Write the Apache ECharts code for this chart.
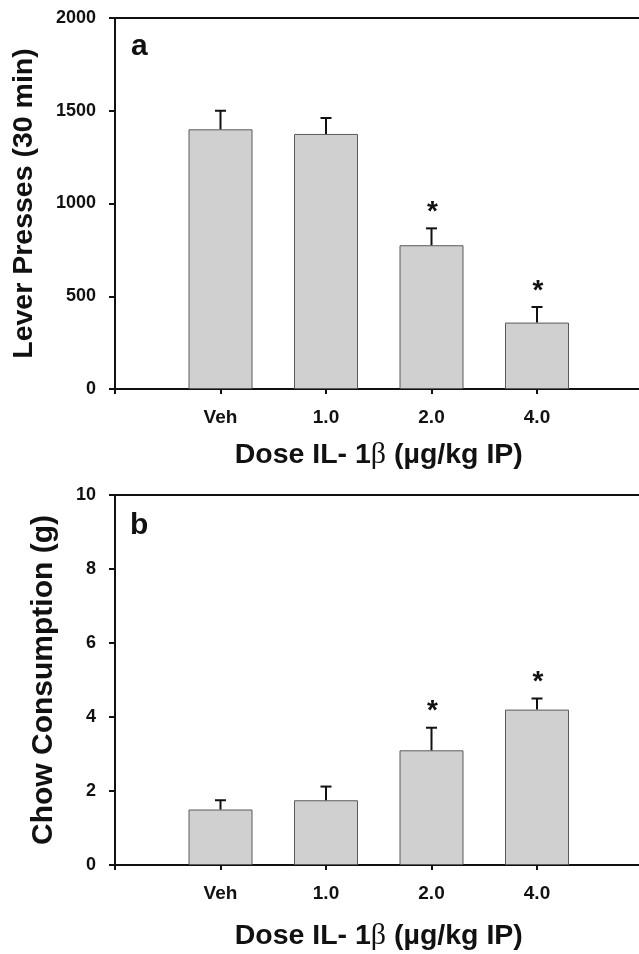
<!DOCTYPE html>
<html>
<head>
<meta charset="utf-8">
<script src="https://cdn.jsdelivr.net/npm/echarts@6/dist/echarts.min.js"></script>
<style>
html,body{margin:0;padding:0;background:#fff;overflow:hidden;}
#chart{width:639px;height:954px;}
</style>
</head>
<body>
<div id="chart"></div>
<script>
// ---- data ----
const doseLabels = ['Veh', '1.0', '2.0', '4.0'];
const leverMeans = [1400, 1375, 775, 358];
const leverSE = [100, 86, 91, 84];
const leverSig = [false, false, true, true];
const chowMeans = [1.5, 1.75, 3.1, 4.2];
const chowSE = [0.25, 0.37, 0.61, 0.3];
const chowSig = [false, false, true, true];
const leverTicks = [0, 500, 1000, 1500, 2000];
const chowTicks = [0, 2, 4, 6, 8, 10];
const xTitle = 'Dose IL- 1{b|β} (µg/kg IP)';
const leverTitle = 'Lever Presses (30 min)';
const chowTitle = 'Chow Consumption (g)';

const FONT = '"Liberation Sans", Arial, sans-serif';
const INK = '#111';

const chart = echarts.init(document.getElementById('chart'), null, {renderer: 'canvas'});

function xAxisCfg(gi, gap) {
  return {
    gridIndex: gi, type: 'value', min: 0, max: doseLabels.length + 1, interval: 1,
    axisLine: {show: true, onZero: false, lineStyle: {color: INK, width: 2}},
    axisTick: {show: true, length: 5, lineStyle: {color: INK, width: 2}},
    splitLine: {show: false},
    axisLabel: {
      margin: 19, fontSize: 19, fontWeight: 'bold', color: INK, fontFamily: FONT,
      formatter: v => (v >= 1 && v <= doseLabels.length) ? doseLabels[v - 1] : ''
    },
    name: xTitle, nameLocation: 'middle', nameGap: gap,
    nameTextStyle: {
      fontSize: 28.5, fontWeight: 'bold', color: INK, fontFamily: FONT,
      rich: {b: {fontSize: 30, fontWeight: 'normal', fontFamily: '"Liberation Serif", "DejaVu Serif", serif', color: INK}}
    }
  };
}
function yAxisCfg(gi, ticks, title, gap, fs) {
  return {
    gridIndex: gi, type: 'value', min: ticks[0], max: ticks[ticks.length - 1],
    interval: ticks[1] - ticks[0],
    axisLine: {show: true, lineStyle: {color: INK, width: 2}},
    axisTick: {show: true, length: 6, lineStyle: {color: INK, width: 2}},
    splitLine: {show: false},
    axisLabel: {margin: 19, fontSize: 18, fontWeight: 'bold', color: INK, fontFamily: FONT,
                formatter: v => String(v)},
    name: title, nameLocation: 'middle', nameGap: gap, nameRotate: 90,
    nameTextStyle: {fontSize: fs, fontWeight: 'bold', color: INK, fontFamily: FONT}
  };
}
function barSeries(gi, means) {
  return {
    type: 'bar', xAxisIndex: gi, yAxisIndex: gi, barWidth: 64,
    data: means.map((m, i) => [i + 1, m]),
    itemStyle: {color: '#d0d0d0', borderColor: '#5a5a5a', borderWidth: 1},
    silent: true, animation: false
  };
}
function errSeries(gi, means, se, sig) {
  return {
    type: 'custom', xAxisIndex: gi, yAxisIndex: gi, z: 5, animation: false, silent: true,
    data: means.map((m, i) => [i + 1, m, m + se[i], sig[i] ? 1 : 0]),
    encode: {x: 0, y: [1, 2]},
    renderItem: function (params, api) {
      const x = api.value(0);
      const p0 = api.coord([x, api.value(1)]);
      const p1 = api.coord([x, api.value(2)]);
      const st = {stroke: INK, lineWidth: 2};
      const children = [
        {type: 'line', shape: {x1: p0[0], y1: p0[1], x2: p1[0], y2: p1[1]}, style: st},
        {type: 'line', shape: {x1: p1[0] - 5.5, y1: p1[1], x2: p1[0] + 5.5, y2: p1[1]}, style: st}
      ];
      if (api.value(3) === 1) {
        children.push({
          type: 'text',
          style: {text: '*', x: p1[0] + 1, y: p1[1] - 16, align: 'center', verticalAlign: 'middle',
                  font: 'bold 28px ' + FONT, fill: INK}
        });
      }
      return {type: 'group', children: children};
    }
  };
}

const option = {
  animation: false,
  backgroundColor: '#fff',
  grid: [
    {left: 115, top: 18, width: 527.5, height: 371, show: true, borderColor: INK, borderWidth: 2,
     backgroundColor: 'transparent', containLabel: false, outerBoundsMode: 'none'},
    {left: 115, top: 495, width: 527.5, height: 370, show: true, borderColor: INK, borderWidth: 2,
     backgroundColor: 'transparent', containLabel: false, outerBoundsMode: 'none'}
  ],
  xAxis: [xAxisCfg(0, 51), xAxisCfg(1, 56)],
  yAxis: [yAxisCfg(0, leverTicks, leverTitle, 76, 28.5), yAxisCfg(1, chowTicks, chowTitle, 56, 30)],
  series: [
    barSeries(0, leverMeans), errSeries(0, leverMeans, leverSE, leverSig),
    barSeries(1, chowMeans), errSeries(1, chowMeans, chowSE, chowSig)
  ],
  graphic: [
    {type: 'text', left: 131, top: 32, style: {text: 'a', font: 'bold 30px ' + FONT, fill: INK}},
    {type: 'text', left: 130, top: 511, style: {text: 'b', font: 'bold 30px ' + FONT, fill: INK}}
  ]
};
chart.setOption(option);
</script>
</body>
</html>
